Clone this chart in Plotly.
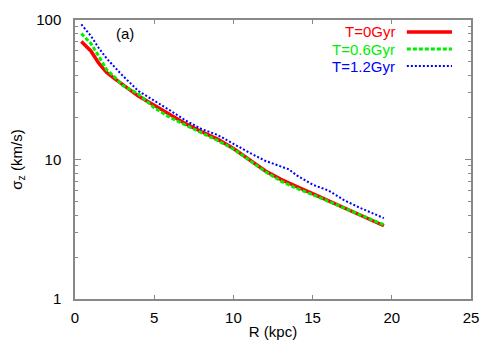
import plotly.graph_objects as go

R = [0.4, 1.0, 1.5, 2.0, 2.5, 3.0, 4.0, 5.0, 6.0, 7.0, 8.0, 9.0, 10.0, 11.0,
     12.0, 13.0, 13.5, 14.0, 15.0, 16.0, 17.0, 18.0, 19.0, 19.5]
sig_t0 = [70, 60, 49, 42, 38, 34.5, 28.5, 24.5, 21, 18, 15.8, 14.0, 12.0, 9.9,
          8.3, 7.2, 6.75, 6.4, 5.7, 5.05, 4.5, 4.0, 3.55, 3.35]
sig_t06 = [80, 68, 55, 44, 39, 34, 29.5, 23.5, 20, 17.5, 15.5, 13.7, 11.9, 9.9,
           8.2, 7.0, 6.6, 6.2, 5.6, 5.0, 4.5, 4.0, 3.55, 3.4]
sig_t12 = [93, 77, 63, 53, 46, 40, 31, 26.5, 22.5, 19.0, 16.5, 15.0, 12.9, 11.2,
           9.8, 8.9, 8.5, 7.7, 6.6, 6.0, 5.1, 4.5, 4.0, 3.8]

names = ["T=0Gyr", "T=0.6Gyr", "T=1.2Gyr"]
colors = ["#ff0000", "#00ee00", "#0000ff"]
widths = [3.5, 3, 2]
dashes = ["solid", "4px,2px", "2px,2px"]
series = [sig_t0, sig_t06, sig_t12]

fig = go.Figure()
for s, n, c, w, d in zip(series, names, colors, widths, dashes):
    fig.add_trace(go.Scatter(x=R, y=s, mode="lines", name=n,
                             line=dict(color=c, width=w, dash=d),
                             showlegend=False))

fam = "Liberation Sans, Arial, sans-serif"
font = dict(family=fam, size=15, color="black")
# legend: text then line sample, like gnuplot
leg_y = [0.957, 0.896, 0.835]
for n, c, w, d, yy in zip(names, colors, widths, dashes, leg_y):
    fig.add_annotation(x=0.813, y=yy, xref="paper", yref="paper", text=n,
                       showarrow=False, xanchor="right", yanchor="middle",
                       font=dict(family=fam, size=15, color=c))
    fig.add_shape(type="line", xref="paper", yref="paper",
                  x0=0.838, x1=0.952, y0=yy, y1=yy,
                  line=dict(color=c, width=w, dash=d))

fig.add_annotation(x=0.127, y=0.952, xref="paper", yref="paper", text="(a)",
                   showarrow=False, xanchor="center", yanchor="middle",
                   font=dict(family=fam, size=15, color="black"))

axcol = "#888888"
fig.update_xaxes(range=[0, 25], tickvals=[0, 5, 10, 15, 20, 25],
                 ticks="inside", ticklen=4, tickcolor=axcol,
                 showline=True, linecolor=axcol, linewidth=1.5, mirror="ticks",
                 showgrid=False, zeroline=False, automargin=False,
                 ticklabelstandoff=4,
                 title=dict(text="R (kpc)", font=font, standoff=2),
                 tickfont=font)
fig.update_yaxes(type="log", range=[0, 2], tickvals=[1, 10, 100],
                 ticktext=["1", "10", "100"],
                 ticks="inside", ticklen=6, tickcolor=axcol,
                 minor=dict(ticks="inside", ticklen=3, tickcolor=axcol,
                            tickvals=[2, 3, 4, 5, 6, 7, 8, 9, 20, 30, 40, 50, 60, 70, 80, 90],
                            showgrid=False),
                 showline=True, linecolor=axcol, linewidth=1.5, mirror="ticks",
                 showgrid=False, zeroline=False, automargin=False,
                 ticklabelstandoff=9,
                 title=dict(text="σ<sub>z</sub> (km/s)", font=font, standoff=18),
                 tickfont=font)

# page body adds an 8px offset, so margins are reduced accordingly
fig.update_layout(width=500, height=350, plot_bgcolor="white", paper_bgcolor="white",
                  margin=dict(l=67, r=37, t=12, b=59), font=font)

fig.write_html("out.html")
